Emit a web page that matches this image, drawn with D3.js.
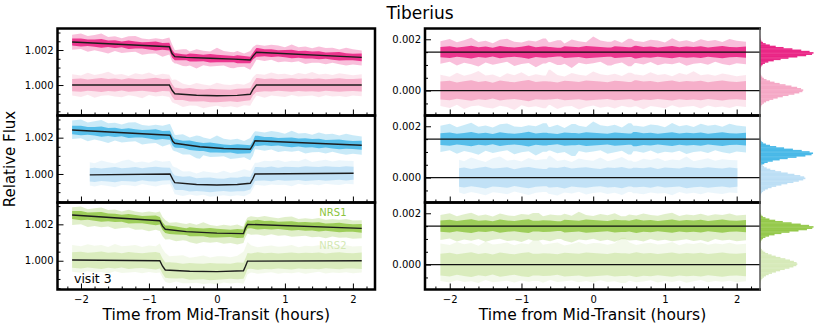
<!DOCTYPE html>
<html><head><meta charset="utf-8">
<script src="https://cdn.jsdelivr.net/npm/d3@7"></script>
<style>body{margin:0;background:#fff} svg{display:block} text{font-family:"DejaVu Sans",sans-serif}</style>
</head><body><svg id="c" width="822" height="328"></svg>
<script>
// ---------------- DATA ----------------
const title = "Tiberius";
const xLabel = "Time from Mid-Transit (hours)";
const yLabel = "Relative Flux";
const visitLabel = "visit 3";
const detectorLabels = ["NRS1", "NRS2"];
const xMajorTicks = [-2, -1, 0, 1, 2];
const yLeftTicks = [1.000, 1.002];
const yRightTicks = [0.000, 0.002];
const rightOffsets = [0.0015, 0.0];

const sampleT = [-2.13,-2.0,-1.9,-1.8,-1.7,-1.6,-1.5,-1.4,-1.3,-1.2,-1.1,-1.0,-0.9,-0.8,-0.7,-0.6,-0.5,-0.4,-0.3,-0.2,-0.1,0.0,0.1,0.2,0.3,0.4,0.5,0.6,0.7,0.8,0.9,1.0,1.1,1.2,1.3,1.4,1.5,1.6,1.7,1.8,1.9,2.0,2.13];

// visit 1 (pink)
const pinkN1ModelT = [-2.13,-0.70,-0.66,-0.62,-0.45,-0.1,0.25,0.49,0.53,0.58,2.13];
const pinkN1ModelF = [1.00246,1.00219,1.0018,1.00162,1.00158,1.00153,1.00148,1.00143,1.00165,1.00187,1.00158];
const pinkN2ModelT = [-2.13,-0.70,-0.66,-0.62,-0.3,0.0,0.3,0.49,0.53,0.58,2.13];
const pinkN2ModelF = [1.0000,1.0000,0.99970,0.99950,0.99942,0.99939,0.99941,0.99947,0.99975,1.0000,1.0000];
const pinkN1Hi = [420,510,380,460,560,390,440,350,480,520,400,370,450,410,530,380,460,340,490,420,380,610,450,400,470,360,520,430,390,480,450,370,540,410,460,380,500,430,470,390,510,440,400];
const pinkN1Lo = [-450,-380,-520,-410,-470,-560,-400,-490,-430,-380,-540,-460,-420,-590,-440,-390,-500,-450,-620,-410,-470,-430,-380,-520,-460,-400,-550,-420,-480,-390,-510,-440,-470,-400,-530,-450,-420,-490,-380,-460,-510,-430,-470];
const pinkN1Core = [200,230,180,210,250,190,220,170,240,200,180,210,260,190,220,200,170,230,210,190,240,220,200,180,230,210,190,250,200,220,180,210,240,190,220,200,230,180,210,240,200,190,220];
const pinkN2Hi = [620,540,700,580,650,760,590,630,520,680,600,720,560,640,590,810,610,550,690,620,580,740,640,600,660,570,700,630,590,720,610,650,560,690,620,750,600,640,580,670,620,560,610];
const pinkN2Lo = [-600,-680,-550,-720,-610,-580,-660,-700,-590,-640,-760,-570,-650,-610,-690,-560,-720,-620,-600,-740,-640,-580,-670,-620,-700,-590,-650,-610,-730,-600,-640,-690,-570,-660,-620,-600,-700,-580,-650,-620,-680,-600,-640];
const pinkN2Core = [350,380,320,360,400,340,370,310,390,350,330,370,410,340,360,350,320,380,360,340,390,370,350,330,380,360,340,400,350,370,330,360,390,340,370,350,380,330,360,390,350,340,370];

// visit 2 (blue)
const blueN1ModelT = [-2.13,-0.69,-0.65,-0.62,-0.25,0.1,0.49,0.53,0.56,2.13];
const blueN1ModelF = [1.00242,1.00213,1.0018,1.00169,1.0015,1.0014,1.00136,1.0016,1.00183,1.00158];
const blueN2ModelT = [-1.87,-0.69,-0.65,-0.62,-0.3,0.0,0.3,0.49,0.53,0.56,2.01];
const blueN2ModelF = [0.99995,1.0,0.9997,0.99952,0.99942,0.99939,0.99942,0.99949,0.99975,1.0,1.00004];
const blueN1Hi = [520,600,460,550,640,480,530,450,580,610,490,470,540,500,620,470,560,430,590,520,470,690,540,500,560,450,620,520,480,570,540,460,630,500,550,470,600,520,560,480,600,530,490];
const blueN1Lo = [-500,-430,-570,-460,-520,-610,-450,-540,-480,-430,-590,-510,-470,-640,-490,-440,-550,-500,-660,-460,-520,-480,-430,-570,-510,-450,-600,-470,-530,-440,-560,-490,-520,-450,-580,-500,-470,-540,-430,-510,-560,-480,-520];
const blueN1Core = [230,260,210,240,280,220,250,200,270,230,210,240,290,220,250,230,200,260,240,220,270,250,230,210,260,240,220,280,230,250,210,240,270,220,250,230,260,210,240,270,230,220,250];
const blueN2Hi = [null,null,700,640,780,690,610,750,820,660,700,630,760,680,720,850,650,700,610,740,690,660,780,640,710,800,670,620,730,690,760,650,710,680,820,640,700,750,660,720,690,680,null];
const blueN2Lo = [null,null,-580,-640,-560,-620,-690,-570,-600,-650,-540,-610,-680,-590,-560,-640,-700,-580,-620,-550,-660,-600,-570,-640,-590,-680,-560,-610,-650,-580,-620,-600,-690,-560,-630,-590,-650,-570,-610,-640,-580,-600,null];
const blueN2Core = [null,null,360,390,340,380,420,350,370,400,330,380,410,360,340,390,370,420,350,380,400,360,340,390,370,410,350,380,360,400,340,390,370,350,410,380,360,400,370,350,390,360,null];

// visit 3 (green)
const greenN1ModelT = [-2.13,-0.84,-0.80,-0.76,-0.45,0.0,0.39,0.42,0.45,2.13];
const greenN1ModelF = [1.00251,1.0022,1.0019,1.00173,1.0016,1.00152,1.00149,1.0018,1.0020,1.00178];
const greenN2ModelT = [-2.13,-0.84,-0.80,-0.76,-0.4,0.0,0.39,0.42,0.45,2.13];
const greenN2ModelF = [1.00004,1.0,0.9997,0.99949,0.99942,0.9994,0.99945,0.9997,0.99998,1.0];
const greenN1Hi = [430,500,380,460,520,400,450,370,490,420,390,470,440,510,380,450,420,480,400,560,430,390,470,420,500,380,450,410,490,430,400,470,520,390,450,420,480,400,460,430,490,410,440];
const greenN1Lo = [-540,-480,-600,-520,-570,-500,-610,-530,-490,-580,-550,-620,-510,-560,-530,-590,-500,-570,-640,-520,-550,-490,-580,-530,-610,-510,-560,-540,-600,-500,-570,-530,-590,-550,-510,-580,-540,-620,-500,-560,-530,-590,-550];
const greenN1Core = [220,250,200,240,270,210,230,190,260,220,200,240,270,210,230,220,190,250,230,210,260,240,220,200,250,230,210,270,220,240,200,230,260,210,240,220,250,200,230,260,220,210,240];
const greenN2Hi = [820,760,880,790,840,730,900,780,810,860,750,830,790,950,770,820,860,740,800,880,780,840,830,770,830,1050,870,760,820,850,780,810,880,750,830,800,860,770,820,790,850,780,810];
const greenN2Lo = [-640,-700,-610,-680,-650,-720,-600,-690,-660,-630,-700,-620,-670,-640,-710,-600,-680,-650,-620,-690,-640,-700,-610,-680,-650,-720,-630,-690,-660,-610,-700,-640,-680,-620,-710,-650,-600,-690,-640,-670,-630,-690,-650];
const greenN2Core = [420,460,400,440,480,410,450,390,470,430,400,450,480,420,440,430,400,460,440,420,470,450,430,410,460,440,420,480,430,450,410,440,470,420,450,430,460,410,440,470,430,420,450];

// residual histograms (bins of 0.00005 from -0.0008 to +0.0008 around each centre)
const histCentres = [[0.0015, 0.0], [0.00098, 0.0], [0.0015, 0.0]];
const pinkHist1 = [0,1,2,4,8,15,28,50,85,140,210,290,380,470,530,545,505,420,330,240,160,100,58,30,15,8,4,2,1,0,0,0];
const pinkHist2 = [1,2,4,8,14,24,40,62,95,135,180,232,290,350,400,432,440,418,378,320,260,200,148,102,66,40,24,14,8,4,2,1];
const blueHist1 = [0,0,1,3,6,12,24,44,78,130,200,282,372,462,525,540,505,425,335,245,165,102,60,32,16,8,4,2,1,0,0,0];
const blueHist2 = [2,3,6,11,19,32,52,80,118,165,218,278,340,395,440,462,450,410,350,282,215,155,105,68,42,25,14,8,4,2,1,0];
const greenHist1 = [0,1,2,5,9,17,31,55,92,148,218,300,392,478,532,545,500,415,322,232,155,96,56,29,14,7,3,2,1,0,0,0];
const greenHist2 = [2,3,5,9,15,25,40,60,88,122,162,205,252,300,340,370,380,372,345,305,258,208,160,118,82,54,34,20,11,6,3,1];

const leftDomains = [[0.99826, 1.00323], [0.99843, 1.00322], [0.99842, 1.0032]];
const rightDomain = [-0.00097, 0.00242];

const colors = [["#e8137b", "#f4a1c1"], ["#39b3e6", "#b6dcf4"], ["#8cc43c", "#d3e8b2"]];

// ---------------- ASSEMBLE ----------------
const visits = [
  {n1:{mt:pinkN1ModelT, mf:pinkN1ModelF, hi:pinkN1Hi, lo:pinkN1Lo, core:pinkN1Core, hist:pinkHist1},
   n2:{mt:pinkN2ModelT, mf:pinkN2ModelF, hi:pinkN2Hi, lo:pinkN2Lo, core:pinkN2Core, hist:pinkHist2}},
  {n1:{mt:blueN1ModelT, mf:blueN1ModelF, hi:blueN1Hi, lo:blueN1Lo, core:blueN1Core, hist:blueHist1},
   n2:{mt:blueN2ModelT, mf:blueN2ModelF, hi:blueN2Hi, lo:blueN2Lo, core:blueN2Core, hist:blueHist2}},
  {n1:{mt:greenN1ModelT, mf:greenN1ModelF, hi:greenN1Hi, lo:greenN1Lo, core:greenN1Core, hist:greenHist1},
   n2:{mt:greenN2ModelT, mf:greenN2ModelF, hi:greenN2Hi, lo:greenN2Lo, core:greenN2Core, hist:greenHist2}}
];

const svg = d3.select("#c");
const L = {x0: 57.5, x1: 375}, R = {x0: 425, x1: 760};
const rowTop = [28.5, 115.5, 202.5], rowH = 87;
const xDomain = [-2.345, 2.325];
const xL = d3.scaleLinear().domain(xDomain).range([L.x0, L.x1]);
const xR = d3.scaleLinear().domain(xDomain).range([R.x0, R.x1]);
const xH = d3.scaleLinear().domain([0, 560]).range([760, 815]);
const binW = 0.00005, binStart = -0.0008;

svg.append("text").attr("x", 420).attr("y", 19).attr("text-anchor", "middle")
  .attr("font-size", 17).text(title);

function points(s) {
  const model = d3.scaleLinear().domain(s.mt).range(s.mf).clamp(true);
  const tMin = s.mt[0], tMax = s.mt[s.mt.length - 1];
  const defIdx = sampleT.map((t, i) => i).filter(i => s.hi[i] != null);
  let ts = defIdx.map(i => sampleT[i]).concat(s.mt);
  ts = Array.from(new Set(ts)).filter(t => t >= tMin - 1e-9 && t <= tMax + 1e-9).sort((a, b) => a - b);
  return ts.map(t => {
    const i = defIdx[d3.leastIndex(defIdx, j => Math.abs(sampleT[j] - t))];
    return {t, m: model(t), hi: s.hi[i] * 1e-6, lo: s.lo[i] * 1e-6, core: s.core[i] * 1e-6};
  });
}

function band(g, x, y, pts, base, color) {
  const outer = d3.area().x(d => x(d.t)).y0(d => y(base(d) + d.lo)).y1(d => y(base(d) + d.hi));
  const inner = d3.area().x(d => x(d.t)).y0(d => y(base(d) - d.core)).y1(d => y(base(d) + d.core));
  g.append("path").attr("d", outer(pts)).attr("fill", color).attr("opacity", 0.27);
  g.append("path").attr("d", inner(pts)).attr("fill", color).attr("opacity", 0.8);
}

function axes(g, x, y, top, x0, x1, yMajor, showX) {
  const bottom = top + rowH;
  const ax = g.append("g").attr("transform", `translate(${x0},0)`)
    .call(d3.axisLeft(y).tickValues(yMajor).tickFormat(d3.format(".3f")).tickSize(-6).tickPadding(4));
  const [d0, d1] = y.domain();
  const yMin = d3.range(Math.ceil(d0 / 0.0005) * 0.0005, d1, 0.0005)
    .filter(v => !yMajor.some(m => Math.abs(m - v) < 1e-7));
  const ay = g.append("g").attr("transform", `translate(${x0},0)`)
    .call(d3.axisLeft(y).tickValues(yMin).tickFormat("").tickSize(-3));
  const bx = g.append("g").attr("transform", `translate(0,${bottom})`)
    .call(d3.axisBottom(x).tickValues(xMajorTicks).tickFormat(showX ? d3.format("d") : "").tickSize(-6).tickPadding(6));
  const xMin = d3.range(-2.2, 2.3, 0.2).filter(v => Math.abs(v - Math.round(v)) > 1e-6);
  const bm = g.append("g").attr("transform", `translate(0,${bottom})`)
    .call(d3.axisBottom(x).tickValues(xMin).tickFormat("").tickSize(-3));
  [ax, ay, bx, bm].forEach(a => {
    a.select(".domain").remove();
    a.attr("font-family", "DejaVu Sans").attr("font-size", 10);
    a.selectAll("line").attr("stroke", "#000").attr("stroke-width", 1);
    a.selectAll("text").attr("fill", "#000");
  });
}

visits.forEach((v, r) => {
  const top = rowTop[r], bottom = top + rowH;
  const yL = d3.scaleLinear().domain(leftDomains[r]).range([bottom, top]);
  const yR = d3.scaleLinear().domain(rightDomain).range([bottom, top]);
  const [c1, c2] = colors[r];
  const p1 = points(v.n1), p2 = points(v.n2);

  // ---- left panel ----
  svg.append("clipPath").attr("id", "cl" + r).append("rect")
    .attr("x", L.x0).attr("y", top).attr("width", L.x1 - L.x0).attr("height", rowH);
  const gl = svg.append("g").attr("clip-path", `url(#cl${r})`);
  band(gl, xL, yL, p2, d => d.m, c2);
  band(gl, xL, yL, p1, d => d.m, c1);
  const line = d3.line().x(d => xL(d[0])).y(d => yL(d[1]));
  [v.n1, v.n2].forEach(s => {
    gl.append("path").attr("d", line(s.mt.map((t, i) => [t, s.mf[i]])))
      .attr("fill", "none").attr("stroke", "#1c1c1c").attr("stroke-width", 1.4);
  });

  // ---- right panel ----
  svg.append("clipPath").attr("id", "cr" + r).append("rect")
    .attr("x", R.x0).attr("y", top).attr("width", R.x1 - R.x0).attr("height", rowH);
  const gr = svg.append("g").attr("clip-path", `url(#cr${r})`);
  band(gr, xR, yR, p2, d => rightOffsets[1], c2);
  band(gr, xR, yR, p1, d => rightOffsets[0], c1);
  rightOffsets.forEach(o => {
    gr.append("line").attr("x1", R.x0).attr("x2", R.x1).attr("y1", yR(o)).attr("y2", yR(o))
      .attr("stroke", "#111").attr("stroke-width", 1.3);
  });

  // ---- histograms ----
  [[v.n1.hist, histCentres[r][0], c1], [v.n2.hist, histCentres[r][1], c2]].forEach(([h, cen, col]) => {
    svg.append("g").selectAll("rect").data(h).join("rect")
      .attr("x", xH(0))
      .attr("y", (d, i) => yR(cen + binStart + (i + 1) * binW))
      .attr("width", d => xH(d) - xH(0))
      .attr("height", (d, i) => yR(cen + binStart + i * binW) - yR(cen + binStart + (i + 1) * binW) + 0.3)
      .attr("fill", col).attr("opacity", 0.9);
  });

  // ---- axes & frames ----
  axes(svg, xL, yL, top, L.x0, L.x1, yLeftTicks, r === 2);
  axes(svg, xR, yR, top, R.x0, R.x1, yRightTicks, r === 2);
  svg.append("rect").attr("x", L.x0).attr("y", top).attr("width", L.x1 - L.x0).attr("height", rowH)
    .attr("fill", "none").attr("stroke", "#000").attr("stroke-width", 2.5);
  svg.append("path").attr("d", `M${R.x1 + 1},${top}H${R.x0}V${bottom}H${R.x1 + 1}`)
    .attr("fill", "none").attr("stroke", "#000").attr("stroke-width", 2.5);
});
svg.append("line").attr("x1", R.x1).attr("x2", R.x1).attr("y1", rowTop[0] - 1).attr("y2", rowTop[2] + rowH + 1)
  .attr("stroke", "#555").attr("stroke-width", 1.5);

// labels
svg.append("text").attr("transform", `translate(15,159) rotate(-90)`).attr("text-anchor", "middle")
  .attr("font-size", 15).text(yLabel);
[L.x0 + L.x1, R.x0 + R.x1].forEach(s => {
  svg.append("text").attr("x", s / 2).attr("y", 319.5).attr("text-anchor", "middle")
    .attr("font-size", 15.5).text(xLabel);
});
svg.append("text").attr("x", 346.5).attr("y", 216).attr("text-anchor", "end")
  .attr("font-size", 10).attr("fill", colors[2][0]).text(detectorLabels[0]);
svg.append("text").attr("x", 346.5).attr("y", 249).attr("text-anchor", "end")
  .attr("font-size", 10).attr("fill", colors[2][1]).text(detectorLabels[1]);
svg.append("text").attr("x", 74).attr("y", 283).attr("font-size", 12.5).text(visitLabel);
</script></body></html>
